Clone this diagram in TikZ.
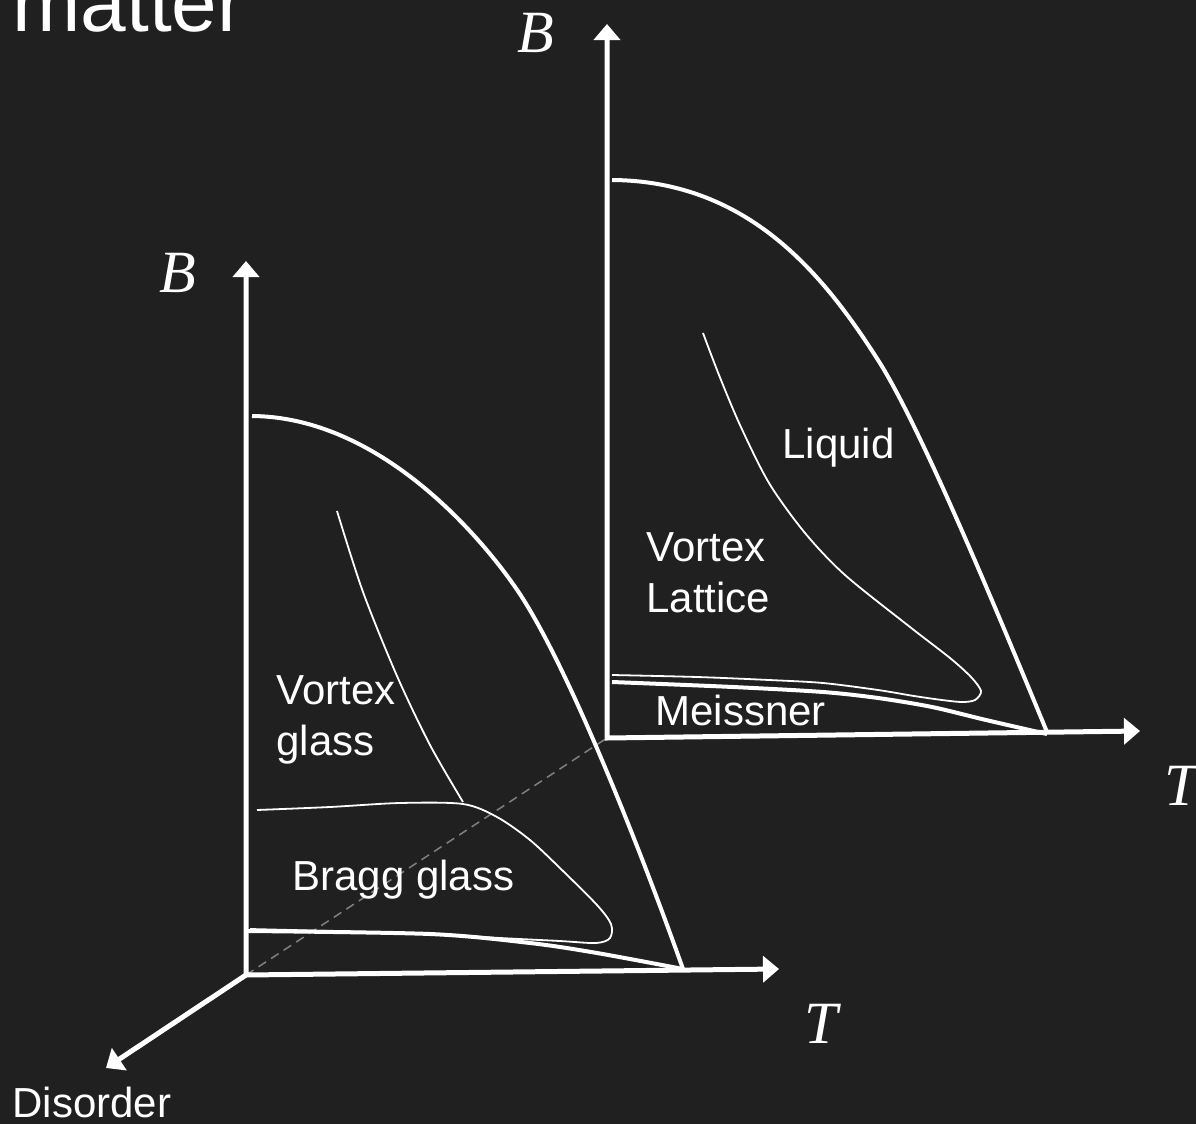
\documentclass[tikz,border=0pt]{standalone}
\usepackage{fontspec}
\setmainfont{Liberation Sans}
\newfontfamily\serifit{Liberation Serif}
\usetikzlibrary{arrows.meta}
\definecolor{bgcol}{RGB}{32,32,32}
\definecolor{dashgray}{RGB}{128,128,128}
\begin{document}
\begin{tikzpicture}[x=0.5pt,y=-0.5pt,
  >={Triangle[width=13pt,length=8pt]},
  axisline/.style={white,line width=2.5pt},
  bound/.style={white,line width=2pt},
  thinline/.style={white,line width=0.9pt},
  dashline/.style={dashgray,line width=0.75pt,dash pattern=on 4.5pt off 3pt},
  lbl/.style={text=white,inner sep=0pt,anchor=base west,font=\fontsize{21}{25.5}\selectfont},
  axlbl/.style={text=white,inner sep=0pt,anchor=base west,font=\serifit\itshape\fontsize{30}{36}\selectfont}]
\fill[bgcol] (0,0) rectangle (1196,1124);
\useasboundingbox (0,0) rectangle (1196,1124);

% axis points
\coordinate (o1) at (246,975);
\coordinate (b1) at (246,261);
\coordinate (t1) at (779,969);
\coordinate (d1) at (106,1068);
\coordinate (o2) at (607,738);
\coordinate (b2) at (607,24);
\coordinate (t2) at (1140,731);

% dashed link between origins
\draw[dashline] (o1) -- (o2);

% left diagram
\draw[axisline,<->] (b1) -- (o1) -- (t1);
\draw[axisline,->] (o1) -- (d1);
\draw[bound] (252,416) .. controls (380,417) and (480,537) .. (513,584)
                       .. controls (566,657) and (646,865) .. (683,969);
\draw[thinline] plot[smooth] coordinates {(337,511) (363,592) (397,676) (430,745) (463,802)};
\draw[thinline] plot[smooth] coordinates {(257,810) (330,807) (400,803) (463,804) (497,817) (530,840) (563,871) (597,905) (611,924) (610,938) (596,943) (560,941) (500,938) (430,934) (330,931) (250,929)};
\draw[bound] plot[smooth] coordinates {(248,931) (430,934) (530,943) (597,953) (683,969)};

% right diagram
\draw[axisline,<->] (b2) -- (o2) -- (t2);
\draw[bound] (612,180) .. controls (750,181) and (825,277) .. (878,360)
                       .. controls (921,427) and (1001,621) .. (1047,732);
\draw[thinline] plot[smooth] coordinates {(703,333) (719,375) (740,425) (769,483) (805,533) (845,575) (910,627) (950,658) (971,677) (981,691) (975,700) (962,702) (942,700) (914,696) (878,690) (823,683) (769,680) (697,677) (612,675)};
\draw[bound] plot[smooth] coordinates {(612,682) (733,687) (823,692) (878,698) (932,707) (986,720) (1047,734)};

% labels
\node[axlbl] (B1) at (159,292) {B};
\node[axlbl] (B2) at (517,53) {B};
\node[axlbl] (T1) at (804,1043) {T};
\node[axlbl] (T2) at (1164,805) {T};
\node[lbl] (liq) at (782,458) {Liquid};
\node[lbl] (vlat) at (646,612) {\begin{tabular}[b]{@{}l@{}}Vortex\\Lattice\end{tabular}};
\node[lbl] (mei) at (655,725) {Meissner};
\node[lbl] (vgl) at (276,755) {\begin{tabular}[b]{@{}l@{}}Vortex\\glass\end{tabular}};
\node[lbl] (bragg) at (292,890) {Bragg glass};
\node[lbl] (dis) at (12,1117) {Disorder};
\node[text=white,inner sep=0pt,anchor=base west,font=\fontsize{41}{49}\selectfont] (title) at (12,32) {matter};
\end{tikzpicture}
\end{document}
